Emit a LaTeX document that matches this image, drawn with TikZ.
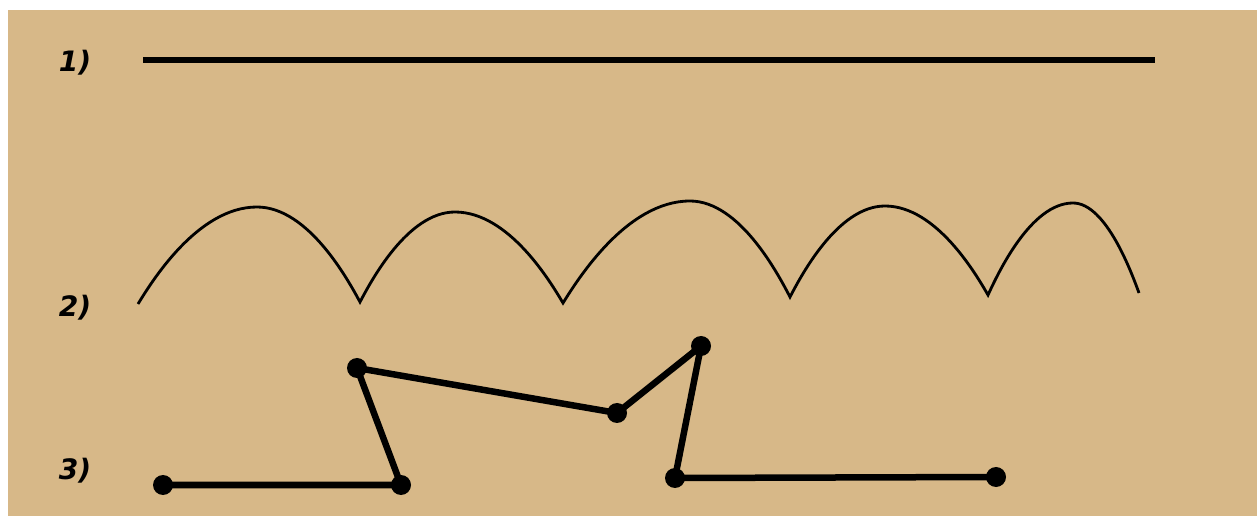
\documentclass[tikz,border=0pt]{standalone}
\usepackage{fontspec}
\setsansfont{DejaVu Sans}
\definecolor{parchment}{RGB}{215,184,136}
\tikzset{
  lbl/.style={font=\sffamily\bfseries\itshape\fontsize{16}{18}\selectfont, inner sep=0pt},
  straight/.style={line width=3.4pt},
  arcs/.style={line width=1.6pt, line join=miter},
  broken/.style={line width=3.7pt, line join=round},
  dot/.style={fill=black}
}
\begin{document}
\begin{tikzpicture}[x=0.02cm, y=-0.02cm]
  \useasboundingbox (0,0) rectangle (1257,516);
  % background
  \fill[white] (0,0) rectangle (1257,516);
  \fill[parchment] (8,10) rectangle (1257,516);
  % labels
  \node[lbl] (l1) at (75,63) {1)};
  \node[lbl] (l2) at (75,308) {2)};
  \node[lbl] (l3) at (75,471) {3)};
  % 1) straight line
  \coordinate (s1) at (143,60);
  \coordinate (s2) at (1155,60);
  \draw[straight] (s1) -- (s2);
  % 2) arcs
  \coordinate (a0) at (138,304);
  \coordinate (b1) at (257,207);
  \coordinate (a1) at (360,302);
  \coordinate (b2) at (455,212);
  \coordinate (a2) at (563,303);
  \coordinate (b3) at (690,201);
  \coordinate (a3) at (790,297);
  \coordinate (b4) at (885,206);
  \coordinate (a4) at (988,295);
  \coordinate (b5) at (1073,203);
  \coordinate (a5) at (1139,293);
  \draw[arcs] (a0) parabola bend (b1) (a1) parabola bend (b2) (a2)
    parabola bend (b3) (a3) parabola bend (b4) (a4) parabola bend (b5) (a5);
  % 3) broken line
  \coordinate (p1) at (163,485);
  \coordinate (p2) at (401,485);
  \coordinate (p3) at (357,368);
  \coordinate (p4) at (617,413);
  \coordinate (p5) at (701,346);
  \coordinate (p6) at (675,478);
  \coordinate (p7) at (996,477);
  \draw[broken] (p1) -- (p2) -- (p3) -- (p4) -- (p5) -- (p6) -- (p7);
  \foreach \p in {p1,p2,p3,p4,p5,p6,p7}
    \fill[dot] (\p) circle (10);
\end{tikzpicture}
\end{document}
